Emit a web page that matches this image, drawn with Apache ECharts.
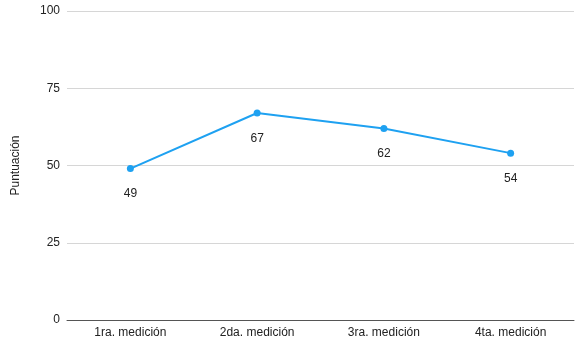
<!DOCTYPE html>
<html>
<head>
<meta charset="utf-8">
<script src="https://cdn.jsdelivr.net/npm/echarts@6/dist/echarts.min.js"></script>
<style>
  html, body { margin: 0; padding: 0; background: #fff; }
  #chart { width: 582px; height: 344px; }
</style>
</head>
<body>
<div id="chart"></div>
<script>
const categories = ['1ra. medición', '2da. medición', '3ra. medición', '4ta. medición']
const scores = [49, 67, 62, 54]

const myChart = echarts.init(document.getElementById('chart'))
myChart.setOption({
  animation: false,
  textStyle: { fontFamily: 'Liberation Sans, Arial, sans-serif' },
  grid: { left: 67, right: 8, top: 11, bottom: 24 },
  xAxis: {
    type: 'category',
    data: categories,
    axisLine: { lineStyle: { color: '#555', width: 1 } },
    axisTick: { show: false },
    axisLabel: { color: '#222', fontSize: 12, margin: 7 }
  },
  yAxis: {
    type: 'value',
    min: 0,
    max: 100,
    interval: 25,
    name: 'Puntuación',
    nameLocation: 'middle',
    nameGap: 45,
    nameTextStyle: { color: '#222', fontSize: 12 },
    axisLine: { show: false },
    axisTick: { show: false },
    axisLabel: { color: '#222', fontSize: 12, margin: 7 },
    splitLine: { lineStyle: { color: '#d6d6d6', width: 1 } }
  },
  series: [{
    type: 'line',
    data: scores,
    symbol: 'circle',
    symbolSize: 7,
    lineStyle: { color: '#1ea1f1', width: 2 },
    itemStyle: { color: '#1ea1f1' },
    label: {
      show: true,
      position: 'bottom',
      distance: 16,
      color: '#222',
      fontSize: 12
    }
  }]
})
</script>
</body>
</html>
